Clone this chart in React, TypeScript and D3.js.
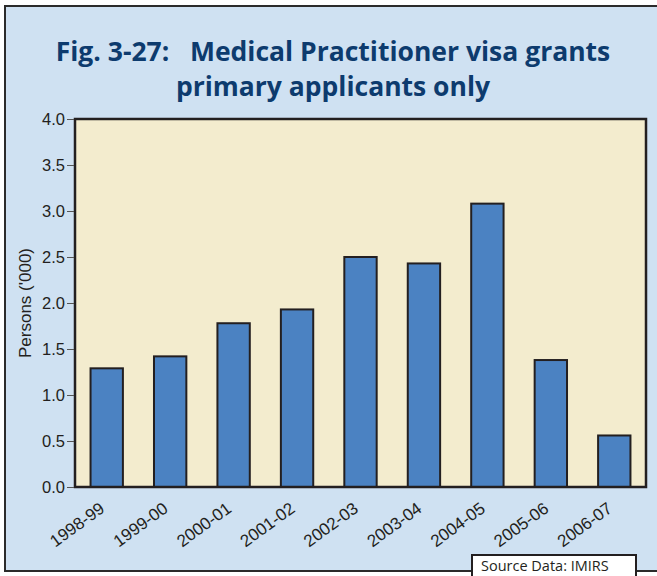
import React, { useEffect, useRef } from 'react';
import * as d3 from 'd3';

const years = ['1998-99', '1999-00', '2000-01', '2001-02', '2002-03', '2003-04', '2004-05', '2005-06', '2006-07'];
const grants = [1.29, 1.42, 1.78, 1.93, 2.5, 2.43, 3.08, 1.38, 0.56];
const yTicks = [0, 0.5, 1, 1.5, 2, 2.5, 3, 3.5, 4];

const titleLines = ['Fig. 3-27:   Medical Practitioner visa grants', 'primary applicants only'];

const App = () => {
    const chart = useRef<SVGSVGElement>(null);

    useEffect(() => {
        const width = 657;
        const left = 75;
        const right = 646;
        const top = 119;
        const bottom = 487;

        const svg = d3.select(chart.current);
        svg.selectAll('*').remove();

        // panel
        svg.append('rect')
            .attr('x', 5)
            .attr('y', 6)
            .attr('width', width + 10)
            .attr('height', 565)
            .attr('fill', '#cfe1f2')
            .attr('stroke', '#2b2b2b')
            .attr('stroke-width', 2);

        svg.append('g')
            .selectAll('text')
            .data(titleLines)
            .join('text')
            .attr('x', 333)
            .attr('y', (d, i) => 61 + i * 35)
            .attr('text-anchor', 'middle')
            .style('white-space', 'pre')
            .style('font-family', "'Open Sans', sans-serif")
            .style('font-weight', 'bold')
            .style('font-size', '26.5px')
            .attr('fill', '#0d3b6e')
            .text(d => d);

        const x = d3
            .scaleBand()
            .domain(years)
            .range([left, right])
            .paddingInner(0.49)
            .paddingOuter(0.245);
        const y = d3.scaleLinear().domain([0, 4]).range([bottom, top]);

        svg.append('rect')
            .attr('x', left)
            .attr('y', top)
            .attr('width', right - left)
            .attr('height', bottom - top)
            .attr('fill', '#f3ecce');

        svg.append('g')
            .attr('fill', '#4b82c2')
            .attr('stroke', '#231f20')
            .attr('stroke-width', 2)
            .selectAll('rect')
            .data(grants)
            .join('rect')
            .attr('x', (d, i) => x(years[i]))
            .attr('y', d => y(d))
            .attr('width', x.bandwidth())
            .attr('height', d => y(0) - y(d));

        svg.append('rect')
            .attr('x', left)
            .attr('y', top)
            .attr('width', right - left)
            .attr('height', bottom - top)
            .attr('fill', 'none')
            .attr('stroke', '#231f20')
            .attr('stroke-width', 2.5);

        const yAxis = svg.append('g')
            .attr('transform', 'translate(' + (left - 1) + ', 0)')
            .call(d3.axisLeft(y).tickValues(yTicks).tickFormat(d3.format('.1f')).tickSize(7).tickPadding(2));
        yAxis.select('.domain').remove();
        yAxis.selectAll('line').attr('stroke', '#555');
        yAxis.selectAll('text')
            .attr('fill', '#231f20')
            .style('font-family', "'Liberation Sans', Arial, sans-serif")
            .style('font-size', '16.5px');

        svg.append('text')
            .attr('transform', 'translate(31, ' + (top + bottom) / 2 + ') rotate(-90)')
            .attr('text-anchor', 'middle')
            .style('font-family', "'Liberation Sans', Arial, sans-serif")
            .style('font-size', '17px')
            .attr('fill', '#231f20')
            .text("Persons ('000)");

        svg.append('g')
            .selectAll('text')
            .data(years)
            .join('text')
            .attr('transform', d => 'translate(' + (x(d) + x.bandwidth() / 2 - 1) + ', 511) rotate(-36)')
            .attr('text-anchor', 'end')
            .style('font-family', "'Liberation Sans', Arial, sans-serif")
            .style('font-size', '17px')
            .attr('fill', '#231f20')
            .text(d => d);

        // source note
        svg.append('rect')
            .attr('x', 472)
            .attr('y', 555)
            .attr('width', 164)
            .attr('height', 30)
            .attr('fill', '#fff')
            .attr('stroke', '#231f20')
            .attr('stroke-width', 2);
        svg.append('text')
            .attr('x', 481)
            .attr('y', 571)
            .style('font-family', "'Open Sans', sans-serif")
            .style('font-size', '14.5px')
            .attr('fill', '#231f20')
            .text('Source Data: IMIRS');
    });

    return (
        <svg
            ref={chart}
            width={657}
            height={576}
            style={{ position: 'absolute', left: 0, top: 0, background: '#fff' }}
        ></svg>
    );
};

export default App;
